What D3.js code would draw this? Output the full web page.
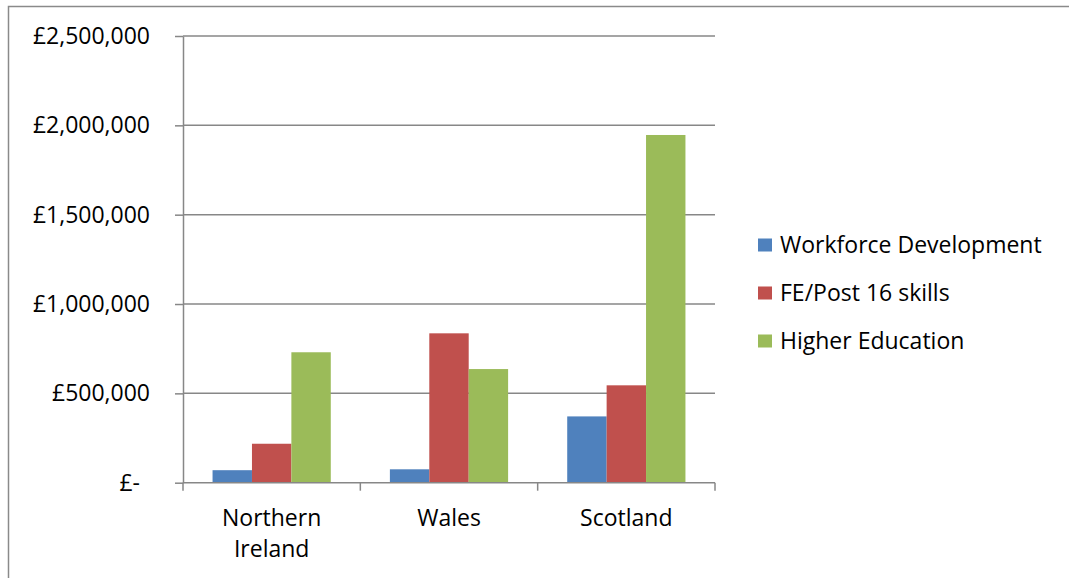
<!DOCTYPE html>
<html>
<head>
<meta charset="utf-8">
<script src="https://cdn.jsdelivr.net/npm/d3@7"></script>
<style>
  html, body { margin: 0; padding: 0; background: #fff; }
  svg { display: block; font-family: "Open Sans", "Noto Sans", sans-serif; }
</style>
</head>
<body>
<svg id="chart" width="1069" height="578"></svg>
<script>
// Funding by nation and sector
const categories = [["Northern", "Ireland"], ["Wales"], ["Scotland"]];
const seriesNames = ["Workforce Development", "FE/Post 16 skills", "Higher Education"];
const seriesColors = ["#4F81BD", "#C0504D", "#9BBB59"];
const workforceDevelopment = [70000, 75000, 371000];
const fePost16Skills = [218000, 836000, 545000];
const higherEducation = [730000, 636000, 1946000];
const tickValues = [0, 500000, 1000000, 1500000, 2000000, 2500000];
const tickLabels = ["£-", "£500,000", "£1,000,000", "£1,500,000", "£2,000,000", "£2,500,000"];

const seriesValues = [workforceDevelopment, fePost16Skills, higherEducation];
const catKeys = categories.map(c => c.join(" "));

const svg = d3.select("#chart");
const fontSize = 23;
const gridColor = "#878787";

// Outer chart frame (top and left edges visible)
svg.append("path")
  .attr("d", "M8.5,578 L8.5,6.5 L1069,6.5")
  .attr("fill", "none")
  .attr("stroke", "#8a8a8a")
  .attr("stroke-width", 1.5);

const plot = { left: 183, right: 715, top: 36, bottom: 482.7 };

const y = d3.scaleLinear().domain([0, 2500000]).range([plot.bottom, plot.top]);
const x0 = d3.scaleBand().domain(catKeys).range([plot.left, plot.right]).padding(0);
const x1 = d3.scaleBand().domain(seriesNames).range([0, x0.bandwidth()])
  .paddingInner(0).paddingOuter(0.75);

// Horizontal gridlines
svg.append("g")
  .selectAll("line")
  .data(tickValues.filter(v => v > 0))
  .join("line")
  .attr("x1", plot.left).attr("x2", plot.right)
  .attr("y1", d => y(d)).attr("y2", d => y(d))
  .attr("stroke", gridColor).attr("stroke-width", 1.5);

// Bars
const rows = catKeys.map((k, i) => ({ key: k, values: seriesNames.map((s, j) => ({ s, j, v: seriesValues[j][i] })) }));
svg.append("g")
  .selectAll("g")
  .data(rows)
  .join("g")
  .attr("transform", d => `translate(${x0(d.key)},0)`)
  .selectAll("rect")
  .data(d => d.values)
  .join("rect")
  .attr("x", d => x1(d.s))
  .attr("width", x1.bandwidth())
  .attr("y", d => y(d.v))
  .attr("height", d => y(0) - y(d.v))
  .attr("fill", d => seriesColors[d.j]);

// Y axis
const yAxis = svg.append("g")
  .attr("transform", `translate(${plot.left},0)`)
  .call(d3.axisLeft(y)
    .tickValues(tickValues)
    .tickFormat((d, i) => tickLabels[i])
    .tickSizeInner(8).tickSizeOuter(0).tickPadding(25));
yAxis.select(".domain").attr("stroke", gridColor).attr("stroke-width", 1.5);
yAxis.selectAll(".tick line").attr("stroke", gridColor).attr("stroke-width", 1.5);
yAxis.selectAll(".tick text")
  .attr("font-size", fontSize)
  .attr("font-family", "\"Open Sans\", sans-serif")
  .attr("fill", "#000")
  .attr("dx", d => d === 0 ? -10 : 0);

// X axis line and category boundary ticks
const boundaries = catKeys.map(k => x0(k)).concat([plot.right]);
svg.append("line")
  .attr("x1", plot.left).attr("x2", plot.right)
  .attr("y1", y(0)).attr("y2", y(0))
  .attr("stroke", gridColor).attr("stroke-width", 1.5);
svg.append("g")
  .selectAll("line")
  .data(boundaries)
  .join("line")
  .attr("x1", d => d).attr("x2", d => d)
  .attr("y1", y(0)).attr("y2", y(0) + 8)
  .attr("stroke", gridColor).attr("stroke-width", 1.5);

// Category labels
svg.append("g")
  .selectAll("text")
  .data(categories.map((c, i) => ({ lines: c, key: catKeys[i] })))
  .join("text")
  .attr("text-anchor", "middle")
  .attr("font-size", fontSize)
  .attr("fill", "#000")
  .attr("x", d => x0(d.key) + x0.bandwidth() / 2)
  .attr("y", 526)
  .selectAll("tspan")
  .data(d => d.lines.map((t, i) => ({ t, i, cx: x0(d.key) + x0.bandwidth() / 2 })))
  .join("tspan")
  .attr("x", d => d.cx)
  .attr("dy", d => d.i === 0 ? 0 : 31)
  .text(d => d.t);

// Legend
const legend = svg.append("g")
  .selectAll("g")
  .data(seriesNames)
  .join("g")
  .attr("transform", (d, i) => `translate(758,${245 + i * 48})`);
legend.append("rect")
  .attr("x", 0).attr("y", -6.5)
  .attr("width", 14).attr("height", 13)
  .attr("fill", (d, i) => seriesColors[i]);
legend.append("text")
  .attr("x", 22).attr("y", 0)
  .attr("dy", "0.35em")
  .attr("font-size", fontSize)
  .attr("fill", "#000")
  .text(d => d);
</script>
</body>
</html>
